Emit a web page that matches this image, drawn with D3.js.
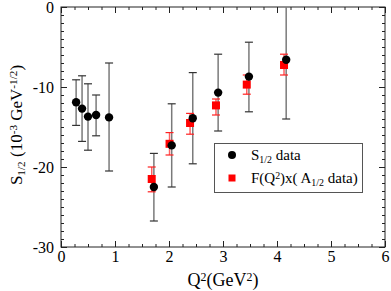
<!DOCTYPE html>
<html>
<head>
<meta charset="utf-8">
<script src="https://cdn.jsdelivr.net/npm/d3@7"></script>
<style>
  body { margin: 0; background: #fff; }
  svg { display: block; font-family: "Liberation Serif", "Times New Roman", serif; }
  .tick line { stroke: #222; }
</style>
</head>
<body>
<div id="chart"></div>
<script>
// S1/2 data (black circles)
const q2S = [0.28, 0.39, 0.50, 0.65, 0.89, 1.72, 2.05, 2.44, 2.91, 3.48, 4.17];
const sVal = [-11.9, -12.7, -13.7, -13.5, -13.8, -22.5, -17.3, -13.9, -10.7, -8.7, -6.6];
const sHi = [-9.1, -8.6, -9.6, -11.0, -7.0, -18.3, -12.1, -8.2, -5.9, -4.4, 0.5];
const sLo = [-14.8, -16.8, -17.9, -16.1, -20.5, -26.75, -22.5, -19.6, -15.5, -13.1, -14.0];

// F(Q2) x A1/2 data (red squares)
const q2A = [1.68, 2.01, 2.39, 2.87, 3.44, 4.13];
const aVal = [-21.5, -17.1, -14.5, -12.3, -9.7, -7.25];
const aHi = [-20.0, -15.7, -13.3, -11.5, -8.5, -5.9];
const aLo = [-23.1, -18.5, -15.9, -13.5, -10.9, -8.5];

const xTicks = [0, 1, 2, 3, 4, 5, 6];
const yTicks = [-30, -20, -10, 0];

const SERIF = '"Liberation Serif", "Times New Roman", serif';
const W = 391, H = 291;
const margin = { top: 7, right: 6, bottom: 44, left: 61 };
const w = W - margin.left - margin.right;
const h = H - margin.top - margin.bottom;

const svg = d3.select('#chart').append('svg')
    .attr('width', W).attr('height', H);
const g = svg.append('g')
    .attr('transform', `translate(${margin.left},${margin.top})`);

const x = d3.scaleLinear().domain([0, 6]).range([0, w]);
const y = d3.scaleLinear().domain([-30, 0]).range([h, 0]);

const xMinor = d3.range(0, 6.001, 0.25);
const yMinor = d3.range(-30, 0.001, 1);

// minor ticks
g.append('g').attr('transform', `translate(0,${h})`)
    .call(d3.axisBottom(x).tickValues(xMinor).tickSize(-3).tickFormat(''));
g.append('g')
    .call(d3.axisTop(x).tickValues(xMinor).tickSize(-3).tickFormat(''));
g.append('g')
    .call(d3.axisLeft(y).tickValues(yMinor).tickSize(-3).tickFormat(''));
g.append('g').attr('transform', `translate(${w},0)`)
    .call(d3.axisRight(y).tickValues(yMinor).tickSize(-3).tickFormat(''));

// major ticks
g.append('g').attr('transform', `translate(0,${h})`)
    .call(d3.axisBottom(x).tickValues(xTicks).tickSize(-6).tickPadding(4).tickFormat(d3.format('d')))
    .attr('font-family', SERIF).attr('font-size', 16);
g.append('g')
    .call(d3.axisTop(x).tickValues(xTicks).tickSize(-6).tickFormat(''));
g.append('g')
    .call(d3.axisLeft(y).tickValues(yTicks).tickSize(-6).tickPadding(7).tickFormat(d => d))
    .attr('font-family', SERIF).attr('font-size', 16);
g.append('g').attr('transform', `translate(${w},0)`)
    .call(d3.axisRight(y).tickValues(yTicks).tickSize(-6).tickFormat(''));

g.selectAll('.domain').remove();
g.selectAll('.tick text').attr('fill', '#000');

g.append('rect')
    .attr('width', w).attr('height', h)
    .attr('fill', 'none').attr('stroke', '#222').attr('stroke-width', 1);

// clip for bars leaving the frame
svg.append('defs').append('clipPath').attr('id', 'clip')
    .append('rect').attr('width', w).attr('height', h);
const plot = g.append('g').attr('clip-path', 'url(#clip)');

const sData = q2S.map((q, i) => ({ q, v: sVal[i], hi: sHi[i], lo: sLo[i] }));
const aData = q2A.map((q, i) => ({ q, v: aVal[i], hi: aHi[i], lo: aLo[i] }));

function errorBars(sel, data, lineColor, capColor) {
    const eb = sel.append('g');
    eb.selectAll('line.bar').data(data).enter().append('line')
        .attr('x1', d => x(d.q)).attr('x2', d => x(d.q))
        .attr('y1', d => y(d.hi)).attr('y2', d => y(d.lo))
        .attr('stroke', lineColor).attr('stroke-width', 1.5);
    ['hi', 'lo'].forEach(k => {
        eb.selectAll('line.cap' + k).data(data).enter().append('line')
            .attr('x1', d => x(d.q) - 4).attr('x2', d => x(d.q) + 4)
            .attr('y1', d => y(d[k])).attr('y2', d => y(d[k]))
            .attr('stroke', capColor).attr('stroke-width', 1.2);
    });
}

errorBars(plot, sData, '#7a7a7a', '#333');
errorBars(plot, aData, '#ff6060', '#ff2020');

plot.selectAll('rect.sq').data(aData).enter().append('rect')
    .attr('x', d => x(d.q) - 4).attr('y', d => y(d.v) - 4)
    .attr('width', 8).attr('height', 8)
    .attr('fill', '#ff0000');

plot.selectAll('circle').data(sData).enter().append('circle')
    .attr('cx', d => x(d.q)).attr('cy', d => y(d.v))
    .attr('r', 4.2).attr('fill', '#000');

// helper for rich text with sub/superscripts
function rich(text, parts, size) {
    text.style('font-size', size + 'px').attr('font-family', SERIF);
    parts.forEach(p => {
        const t = text.append('tspan').text(p.t);
        if (p.sup) t.attr('baseline-shift', '45%').style('font-size', (size * 0.66) + 'px');
        if (p.sub) t.attr('baseline-shift', '-25%').style('font-size', (size * 0.66) + 'px');
    });
}

// axis labels
rich(svg.append('text')
    .attr('x', 223).attr('y', 286).attr('text-anchor', 'middle'),
    [{ t: 'Q' }, { t: '2', sup: true }, { t: '(GeV' }, { t: '2', sup: true }, { t: ')' }], 18);

rich(svg.append('text')
    .attr('transform', 'translate(22,125) rotate(-90)').attr('text-anchor', 'middle'),
    [{ t: 'S' }, { t: '1/2', sub: true }, { t: ' (10' }, { t: '-3', sup: true },
     { t: ' GeV' }, { t: '-1/2', sup: true }, { t: ')' }], 17);

// legend
const lg = svg.append('g');
lg.append('rect')
    .attr('x', 214.5).attr('y', 143.5).attr('width', 148).attr('height', 49)
    .attr('fill', '#fff').attr('stroke', '#555').attr('stroke-width', 1);
lg.append('circle').attr('cx', 232).attr('cy', 155).attr('r', 4).attr('fill', '#000');
lg.append('rect').attr('x', 228.5).attr('y', 174.5).attr('width', 7).attr('height', 7).attr('fill', '#ff0000');
rich(lg.append('text').attr('x', 251).attr('y', 160),
    [{ t: 'S' }, { t: '1/2', sub: true }, { t: ' data' }], 15);
rich(lg.append('text').attr('x', 251).attr('y', 183),
    [{ t: 'F(Q' }, { t: '2', sup: true }, { t: ')x( A' }, { t: '1/2', sub: true }, { t: ' data)' }], 15);
</script>
</body>
</html>
